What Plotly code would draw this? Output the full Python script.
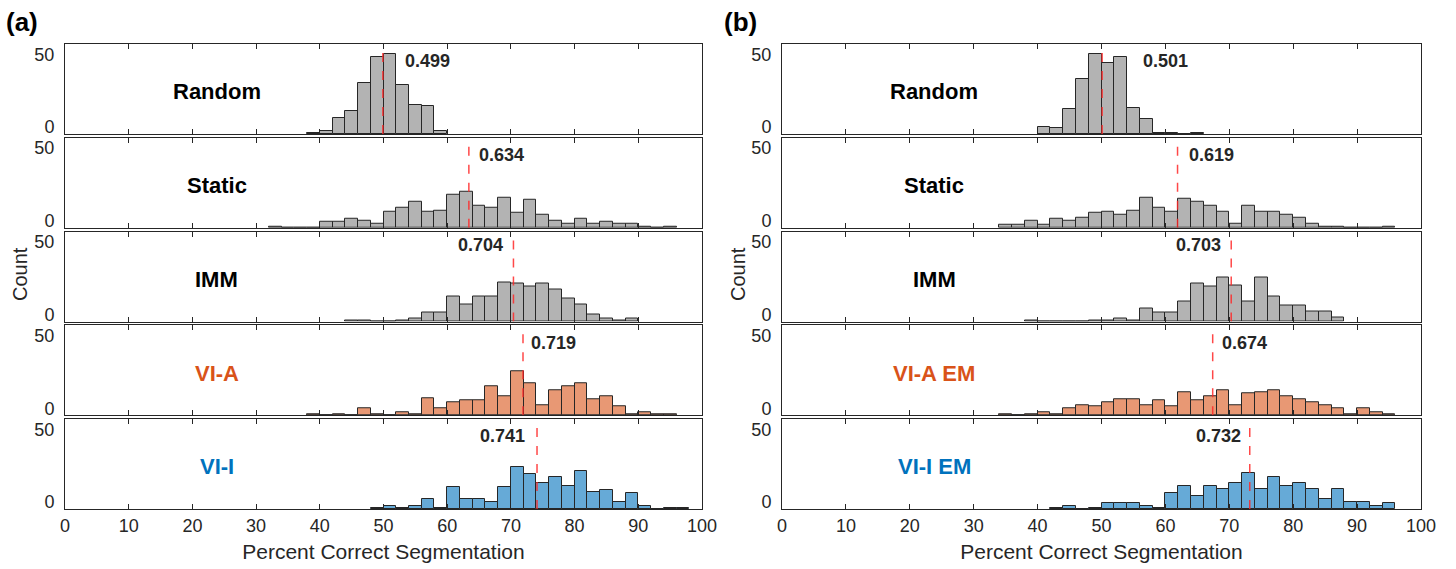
import plotly.graph_objects as go

W, H = 1456, 569
BIN_W = 2

# ---------- data: column (a) ----------
a_names = ["Random", "Static", "IMM", "VI-A", "VI-I"]
a_means = [0.499, 0.634, 0.704, 0.719, 0.741]
a_starts = [38, 32, 44, 38, 48]
a_random = [1, 2, 11, 16, 35, 53, 55, 34, 20, 19, 2]
a_static = [1, 0, 0, 0, 4, 4, 6, 5, 3, 11, 14, 18, 11, 12, 23, 25, 15, 14, 21, 10,
            19, 9, 5, 3, 6, 3, 4, 3, 3, 1, 0, 1]
a_imm = [1, 1, 0, 0, 1, 2, 6, 6, 17, 12, 17, 17, 27, 26, 24, 26, 22, 16, 12, 5, 2, 1, 2]
a_via = [1, 0, 1, 0, 5, 1, 0, 2, 1, 12, 5, 9, 10, 10, 20, 13, 30, 22, 7, 17, 20, 22,
         11, 13, 6, 1, 2, 1, 1]
a_vii = [1, 2, 1, 2, 7, 1, 15, 7, 7, 5, 15, 29, 24, 18, 22, 16, 26, 12, 13, 5, 11, 2,
         0, 1, 1]

# ---------- data: column (b) ----------
b_names = ["Random", "Static", "IMM", "VI-A EM", "VI-I EM"]
b_means = [0.501, 0.619, 0.703, 0.674, 0.732]
b_starts = [40, 34, 38, 34, 42]
b_random = [5, 4, 17, 38, 55, 49, 53, 18, 10, 1, 1, 0, 1]
b_static = [2, 2, 5, 2, 6, 5, 7, 10, 11, 9, 12, 21, 14, 11, 20, 18, 15, 11, 3, 15,
            11, 11, 9, 7, 3, 1, 1, 0, 0, 0, 1]
b_imm = [1, 0, 0, 0, 0, 1, 1, 2, 1, 9, 6, 6, 14, 26, 24, 30, 25, 14, 30, 17, 11, 11,
         7, 7, 3]
b_via = [1, 0, 1, 2, 1, 5, 7, 6, 9, 11, 11, 7, 10, 6, 16, 10, 13, 17, 7, 15, 16, 17,
         13, 11, 9, 7, 5, 1, 5, 2, 1]
b_vii = [1, 2, 0, 1, 4, 4, 4, 2, 1, 11, 16, 9, 16, 14, 18, 25, 14, 22, 16, 18, 14, 7,
         14, 5, 5, 2, 4]

x_ticks = [0, 10, 20, 30, 40, 50, 60, 70, 80, 90, 100]
y_ticks = [0, 50]

# ---------- styling ----------
FILL = ["#b3b3b3", "#b3b3b3", "#b3b3b3", "#e89874", "#66aad7"]
NAME_COL = ["#000000", "#000000", "#000000", "#d95319", "#0072bd"]
EDGE = "#262626"
TXT = "#262626"
FONT = "Liberation Sans, Arial, Helvetica, sans-serif"
YMAX = 62

# label placement: (anchor side, pixel shift, y in data units)
a_lab = [("left", 20, 50), ("left", 8, 50), ("right", -8, 52.5), ("left", 6, 50), ("right", -10, 50)]
b_lab = [("left", 39, 50), ("left", 9, 50), ("right", -8, 52.5), ("left", 7, 50), ("right", -7, 50)]

col_px = [(65, 702), (782, 1421)]
row_top = [44, 137.75, 231.5, 325.25, 419]
ROW_H = 90

columns = [
    (a_names, a_means, a_starts, [a_random, a_static, a_imm, a_via, a_vii], a_lab),
    (b_names, b_means, b_starts, [b_random, b_static, b_imm, b_via, b_vii], b_lab),
]

fig = go.Figure()
layout = {}
shapes = []
annotations = []

for c, (names, means, starts, series, labs) in enumerate(columns):
    x0p, x1p = col_px[c]
    for r in range(5):
        k = c * 5 + r + 1
        xa = "x" if k == 1 else f"x{k}"
        ya = "y" if k == 1 else f"y{k}"
        counts = series[r]
        centers = [starts[r] + BIN_W * i + BIN_W / 2 for i in range(len(counts))]
        fig.add_trace(go.Bar(
            x=centers, y=counts, width=BIN_W,
            marker=dict(color=FILL[r], line=dict(color=EDGE, width=1)),
            xaxis=xa, yaxis=ya, showlegend=False, hoverinfo="x+y",
        ))
        top, bot = row_top[r], row_top[r] + ROW_H
        layout["xaxis" if k == 1 else f"xaxis{k}"] = dict(
            domain=[x0p / W, x1p / W], anchor=ya, range=[0, 100], automargin=False,
            tickvals=x_ticks, ticks="inside", ticklen=5, tickcolor=EDGE,
            showline=True, mirror="ticks", linecolor=EDGE, linewidth=1,
            showgrid=False, zeroline=False,
            showticklabels=(r == 4), ticklabelstandoff=0,
            tickfont=dict(size=18, color=TXT, family=FONT),
            title=dict(text="Percent Correct Segmentation" if r == 4 else "",
                       font=dict(size=21, color=TXT, family=FONT), standoff=9),
        )
        layout["yaxis" if k == 1 else f"yaxis{k}"] = dict(
            domain=[1 - bot / H, 1 - top / H], anchor=xa, range=[0, YMAX], automargin=False,
            tickvals=y_ticks, ticks="", showline=True, mirror=True,
            linecolor=EDGE, linewidth=1, showgrid=False, zeroline=False,
            tickfont=dict(size=18, color=TXT, family=FONT), ticklabelshift=-7,
            ticklabelstandoff=6,
        )
        m = means[r] * 100
        shapes.append(dict(type="line", xref=xa, yref=ya, x0=m, x1=m, y0=0, y1=YMAX,
                           line=dict(color="rgba(255,40,40,0.85)", width=1.5, dash="dash")))
        side, shift, ly = labs[r]
        annotations.append(dict(xref=xa, yref=ya, x=m, y=ly, text=f"<b>{means[r]:.3f}</b>",
                                showarrow=False, xanchor=side, xshift=shift,
                                font=dict(size=18, color=TXT, family=FONT)))
        annotations.append(dict(xref=xa, yref=ya, x=23.8, y=29, text=f"<b>{names[r]}</b>",
                                showarrow=False, xanchor="center",
                                font=dict(size=22, color=NAME_COL[r], family=FONT)))

# panel letters and y titles
for c, letter in enumerate(["(a)", "(b)"]):
    annotations.append(dict(xref="paper", yref="paper", x=(4 if c == 0 else 722) / W,
                            y=1 - 22 / H, text=f"<b>{letter}</b>", showarrow=False,
                            xanchor="left", yanchor="middle",
                            font=dict(size=26, color="#000000", family=FONT)))
    annotations.append(dict(xref="paper", yref="paper", x=(20 if c == 0 else 738) / W,
                            y=1 - 274 / H, text="Count", showarrow=False, textangle=-90,
                            xanchor="center", yanchor="middle",
                            font=dict(size=20, color=TXT, family=FONT)))

fig.update_layout(
    width=W, height=H, margin=dict(l=0, r=0, t=0, b=0),
    paper_bgcolor="white", plot_bgcolor="white", bargap=0,
    shapes=shapes, annotations=annotations, **layout,
)
fig.write_html("out.html")
